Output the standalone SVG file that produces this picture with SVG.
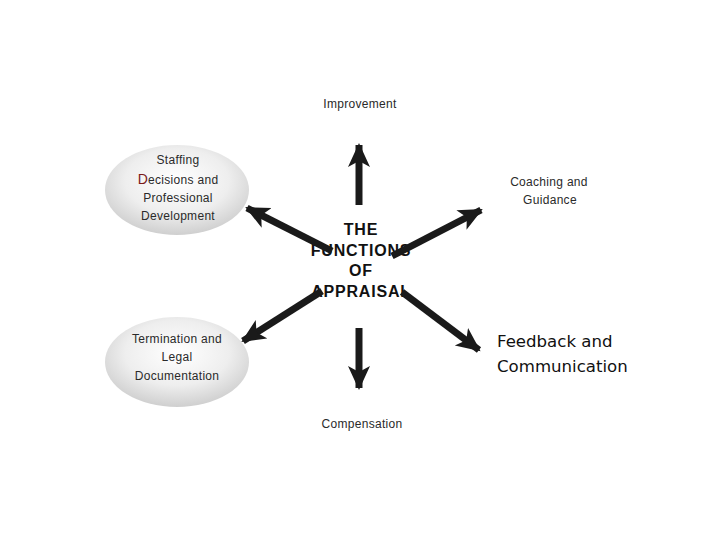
<svg xmlns="http://www.w3.org/2000/svg" width="720" height="540" viewBox="0 0 720 540">
<style>
.lbl{font-family:"Liberation Sans",Arial,sans-serif;font-size:12px;fill:#2a2a2a;text-anchor:middle;letter-spacing:0.3px}
.ctr{font-family:"Liberation Sans",Arial,sans-serif;font-size:16px;font-weight:bold;fill:#111;text-anchor:middle;letter-spacing:0.8px}
.big{font-family:"DejaVu Sans","Liberation Sans",sans-serif;font-size:16.6px;fill:#111}
.arr{stroke:#1a1a1a;stroke-width:7;fill:none;marker-end:url(#ah)}
</style>
<defs>
<radialGradient id="g" cx="50%" cy="40%" r="60%">
<stop offset="0" stop-color="#ffffff"/>
<stop offset="0.6" stop-color="#eeeeee"/>
<stop offset="1" stop-color="#cfcfcf"/>
</radialGradient>
<marker id="ah" markerUnits="userSpaceOnUse" markerWidth="26" markerHeight="24" refX="22" refY="11" orient="auto">
<path d="M0,0 L24,11 L0,22 L6,11 Z" fill="#1a1a1a"/>
</marker>
</defs>
<rect width="720" height="540" fill="#ffffff"/>
<g id="staffing">
<ellipse cx="177" cy="190" rx="72" ry="45" fill="url(#g)"/>
<text class="lbl" x="178" y="164">Staffing</text>
<text class="lbl" x="178" y="184"><tspan fill="#7a1a1a" font-size="14">D</tspan>ecisions and</text>
<text class="lbl" x="178" y="202">Professional</text>
<text class="lbl" x="178" y="220">Development</text>
</g>
<g id="termination">
<ellipse cx="177" cy="362" rx="72" ry="45" fill="url(#g)"/>
<text class="lbl" x="177" y="343">Termination and</text>
<text class="lbl" x="177" y="361">Legal</text>
<text class="lbl" x="177" y="380">Documentation</text>
</g>
<g id="improvement">
<text class="lbl" x="360" y="108">Improvement</text>
</g>
<g id="coaching">
<text class="lbl" x="549" y="186">Coaching and</text>
<text class="lbl" x="550" y="204">Guidance</text>
</g>
<g id="feedback">
<text class="big" x="497" y="347">Feedback and</text>
<text class="big" x="497" y="372">Communication</text>
</g>
<g id="compensation">
<text class="lbl" x="362" y="428">Compensation</text>
</g>
<g id="center">
<text class="ctr" x="361" y="235">THE</text>
<text class="ctr" x="361" y="256">FUNCTIONS</text>
<text class="ctr" x="361" y="276">OF</text>
<text class="ctr" x="361" y="297">APPRAISAL</text>
</g>
<g id="connectors">
<line class="arr" x1="359" y1="205" x2="359" y2="145"/>
<line class="arr" x1="359" y1="328" x2="359" y2="388"/>
<line class="arr" x1="332" y1="251" x2="247" y2="208"/>
<line class="arr" x1="392" y1="256" x2="481" y2="210"/>
<line class="arr" x1="322" y1="291" x2="243" y2="341"/>
<line class="arr" x1="402" y1="292" x2="479" y2="350"/>
</g>
</svg>
